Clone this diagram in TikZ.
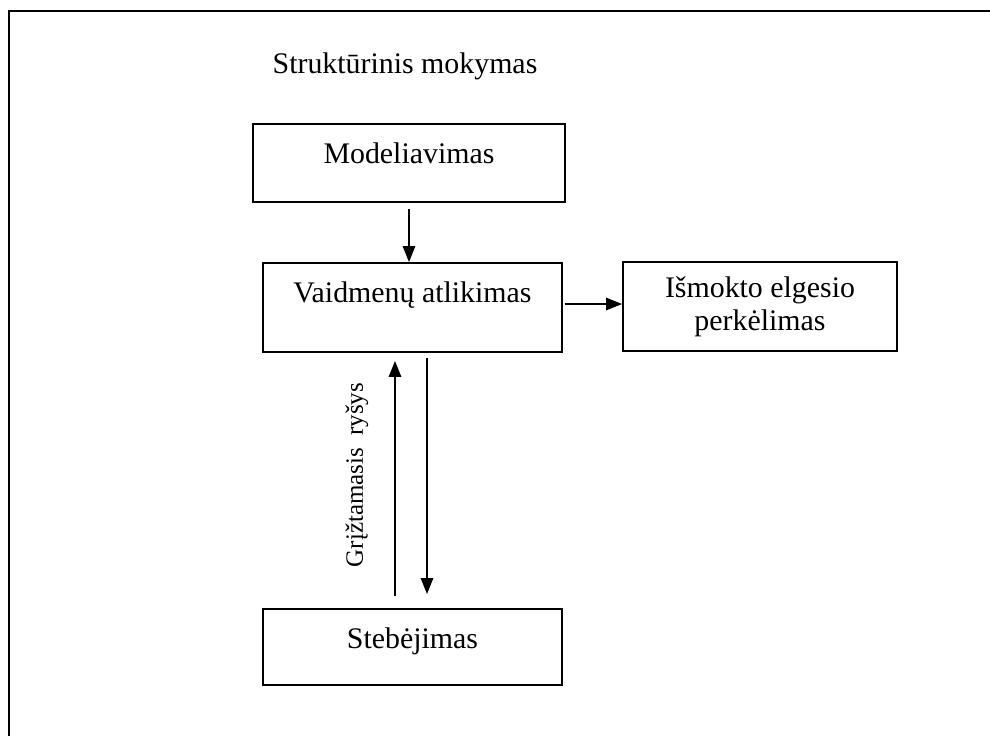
\documentclass[tikz,border=0pt]{standalone}
\usepackage{fontspec}
\setmainfont{Liberation Serif}
\usetikzlibrary{arrows.meta}

\begin{document}
\begin{tikzpicture}
	\tikzset{
		box/.style={draw,line width=1.1pt,inner sep=0pt,font=\fontsize{17}{18.8}\selectfont},
		arr/.style={line width=0.85pt,-{Triangle[length=0.32cm,width=0.25cm]}}}
	\useasboundingbox (0,0) rectangle (19.8,-14.72);
	\draw[line width=1.7pt](19.8,-0.22)--(0.18,-0.22)--(0.18,-14.72);
	\node[anchor=base,font=\fontsize{17}{18.8}\selectfont](t) at (8.1,-1.46){Struktūrinis mokymas};
	\node[box,minimum width=6.24cm,text height=0.78cm,text depth=0.78cm](m) at (8.18,-3.26){Modeliavimas};
	\node[box,minimum width=5.98cm,text height=0.78cm,text depth=1.0cm](v) at (8.25,-6.15){Vaidmenų atlikimas};
	\node[box,minimum width=5.48cm,minimum height=1.78cm,align=center](p) at (15.2,-6.13){Išmokto elgesio\\perkėlimas};
	\node[box,minimum width=5.98cm,text height=0.78cm,text depth=0.74cm](s) at (8.25,-12.94){Stebėjimas};
	\coordinate (u0) at ([xshift=-0.35cm,yshift=0.24cm]s.north);
	\coordinate (u1) at ([xshift=-0.35cm,yshift=-0.16cm]v.south);
	\coordinate (d0) at ([xshift=0.29cm,yshift=-0.1cm]v.south);
	\coordinate (d1) at ([xshift=0.29cm,yshift=0.28cm]s.north);
	\draw[arr]([yshift=-0.12cm]m.south)--(m.south |- v.north);
	\draw[arr]([xshift=0.04cm,yshift=0.07cm]v.east)--([yshift=0.07cm]v.east -| p.west);
	\draw[arr](u0)--(u1);
	\draw[arr](d0)--(d1);
	\node[rotate=90,font=\fontsize{14.2}{16}\selectfont](f) at (7.14,-9.5){Grįžtamasis\ \ ryšys};
\end{tikzpicture}
\end{document}
